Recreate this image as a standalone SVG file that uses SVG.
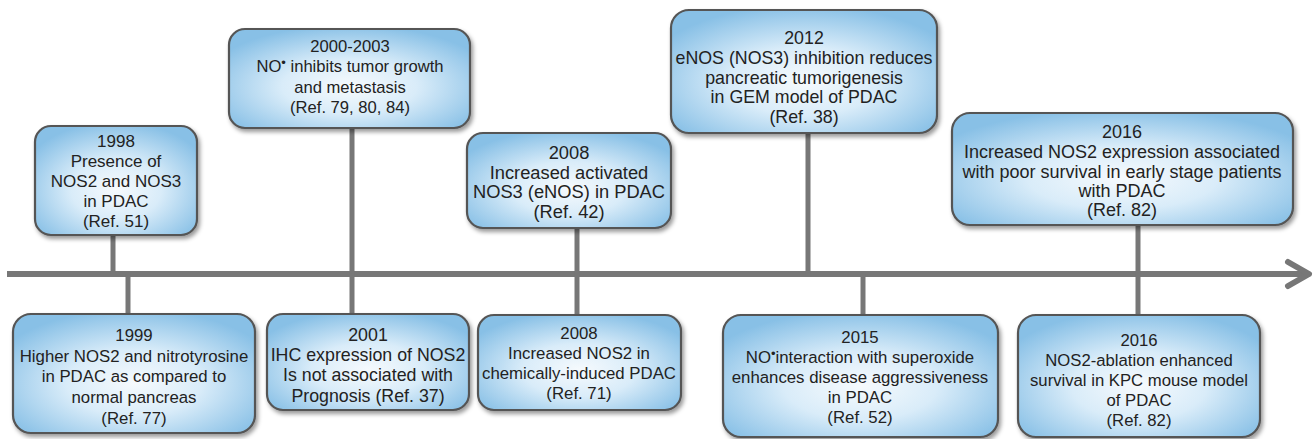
<svg xmlns="http://www.w3.org/2000/svg" width="1313" height="439" viewBox="0 0 1313 439">
<defs>
<radialGradient id="boxfill" cx="0.5" cy="0.58" r="0.62">
<stop offset="0" stop-color="#f6fafd"/>
<stop offset="0.45" stop-color="#d9ecf9"/>
<stop offset="1" stop-color="#88c0e6"/>
</radialGradient>
<filter id="shadow" x="-10%" y="-10%" width="125%" height="130%">
<feDropShadow dx="2" dy="3" stdDeviation="2" flood-color="#000" flood-opacity="0.4"/>
</filter>
</defs>
<style>
.box{fill:url(#boxfill);stroke:#555;stroke-width:2.2;filter:url(#shadow)}
.t{font-family:"Liberation Sans",Arial,sans-serif;fill:#222;text-anchor:middle}
.ln{stroke:#777;stroke-width:5;fill:none}
.axis{stroke:#777;stroke-width:6;fill:none;stroke-linecap:butt}
.head{stroke:#777;stroke-width:6;fill:none;stroke-linecap:round;stroke-linejoin:round}
.dot{font-size:13px;baseline-shift:38%}
</style>
<rect width="1313" height="439" fill="#ffffff"/>
<g id="connectors">
<line class="axis" x1="7" y1="274" x2="1306" y2="274"/>
<polyline class="head" points="1288,262 1309,274 1288,286"/>
<line class="ln" x1="113" y1="230" x2="113" y2="274"/>
<line class="ln" x1="128" y1="274" x2="128" y2="318"/>
<line class="ln" x1="352" y1="124" x2="352" y2="318"/>
<line class="ln" x1="577" y1="224" x2="577" y2="319"/>
<line class="ln" x1="808" y1="129" x2="808" y2="274"/>
<line class="ln" x1="863" y1="274" x2="863" y2="319"/>
<line class="ln" x1="1138" y1="221" x2="1138" y2="319"/>
</g>
<g id="n1998" font-size="17">
<rect class="box" x="35" y="126" width="162" height="109" rx="16"/>
<text class="t" x="116" y="147">1998</text>
<text class="t" x="116" y="167">Presence of</text>
<text class="t" x="116" y="187">NOS2 and NOS3</text>
<text class="t" x="116" y="207">in PDAC</text>
<text class="t" x="116" y="227">(Ref. 51)</text>
</g>
<g id="n2000" font-size="16.6">
<rect class="box" x="229" y="29" width="241" height="99" rx="16"/>
<text class="t" x="350" y="52">2000-2003</text>
<text class="t" x="350" y="72">NO<tspan class="dot">•</tspan> inhibits tumor growth</text>
<text class="t" x="350" y="92.5">and metastasis</text>
<text class="t" x="350" y="113">(Ref. 79, 80, 84)</text>
</g>
<g id="n2008a" font-size="18.3">
<rect class="box" x="467" y="133" width="204" height="95" rx="16"/>
<text class="t" x="569" y="159">2008</text>
<text class="t" x="569" y="178.5">Increased activated</text>
<text class="t" x="569" y="198">NOS3 (eNOS) in PDAC</text>
<text class="t" x="569" y="217.5">(Ref. 42)</text>
</g>
<g id="n2012" font-size="17.8">
<rect class="box" x="671" y="10" width="266" height="123" rx="18"/>
<text class="t" x="804" y="44">2012</text>
<text class="t" x="804" y="64">eNOS (NOS3) inhibition reduces</text>
<text class="t" x="804" y="83.5">pancreatic tumorigenesis</text>
<text class="t" x="804" y="103">in GEM model of PDAC</text>
<text class="t" x="804" y="122.5">(Ref. 38)</text>
</g>
<g id="n2016a" font-size="18">
<rect class="box" x="952" y="113" width="341" height="112" rx="18"/>
<text class="t" x="1122" y="138">2016</text>
<text class="t" x="1122" y="158">Increased NOS2 expression associated</text>
<text class="t" x="1122" y="177.5">with poor survival in early stage patients</text>
<text class="t" x="1122" y="196.5">with PDAC</text>
<text class="t" x="1122" y="215.5">(Ref. 82)</text>
</g>
<g id="n1999" font-size="16.8">
<rect class="box" x="13" y="314" width="242" height="119" rx="18"/>
<text class="t" x="134" y="341">1999</text>
<text class="t" x="134" y="361.5">Higher NOS2 and nitrotyrosine</text>
<text class="t" x="134" y="382">in PDAC as compared to</text>
<text class="t" x="134" y="402.5">normal pancreas</text>
<text class="t" x="134" y="423.5">(Ref. 77)</text>
</g>
<g id="n2001" font-size="17.8">
<rect class="box" x="267" y="314" width="202" height="96" rx="16"/>
<text class="t" x="368" y="341">2001</text>
<text class="t" x="368" y="361">IHC expression of NOS2</text>
<text class="t" x="368" y="381">Is not associated with</text>
<text class="t" x="368" y="401.5">Prognosis (Ref. 37)</text>
</g>
<g id="n2008b" font-size="16.8">
<rect class="box" x="478" y="315" width="203" height="95" rx="16"/>
<text class="t" x="579" y="339">2008</text>
<text class="t" x="579" y="358.5">Increased NOS2 in</text>
<text class="t" x="579" y="378.5">chemically-induced PDAC</text>
<text class="t" x="579" y="398.5">(Ref. 71)</text>
</g>
<g id="n2015" font-size="16.8">
<rect class="box" x="723" y="315" width="275" height="122" rx="18"/>
<text class="t" x="860" y="343">2015</text>
<text class="t" x="860" y="363">NO<tspan class="dot">•</tspan>interaction with superoxide</text>
<text class="t" x="860" y="383">enhances disease aggressiveness</text>
<text class="t" x="860" y="403">in PDAC</text>
<text class="t" x="860" y="423">(Ref. 52)</text>
</g>
<g id="n2016b" font-size="16.7">
<rect class="box" x="1018" y="315" width="242" height="122" rx="18"/>
<text class="t" x="1139" y="346">2016</text>
<text class="t" x="1139" y="366">NOS2-ablation enhanced</text>
<text class="t" x="1139" y="386">survival in KPC mouse model</text>
<text class="t" x="1139" y="406">of PDAC</text>
<text class="t" x="1139" y="426">(Ref. 82)</text>
</g>
</svg>
